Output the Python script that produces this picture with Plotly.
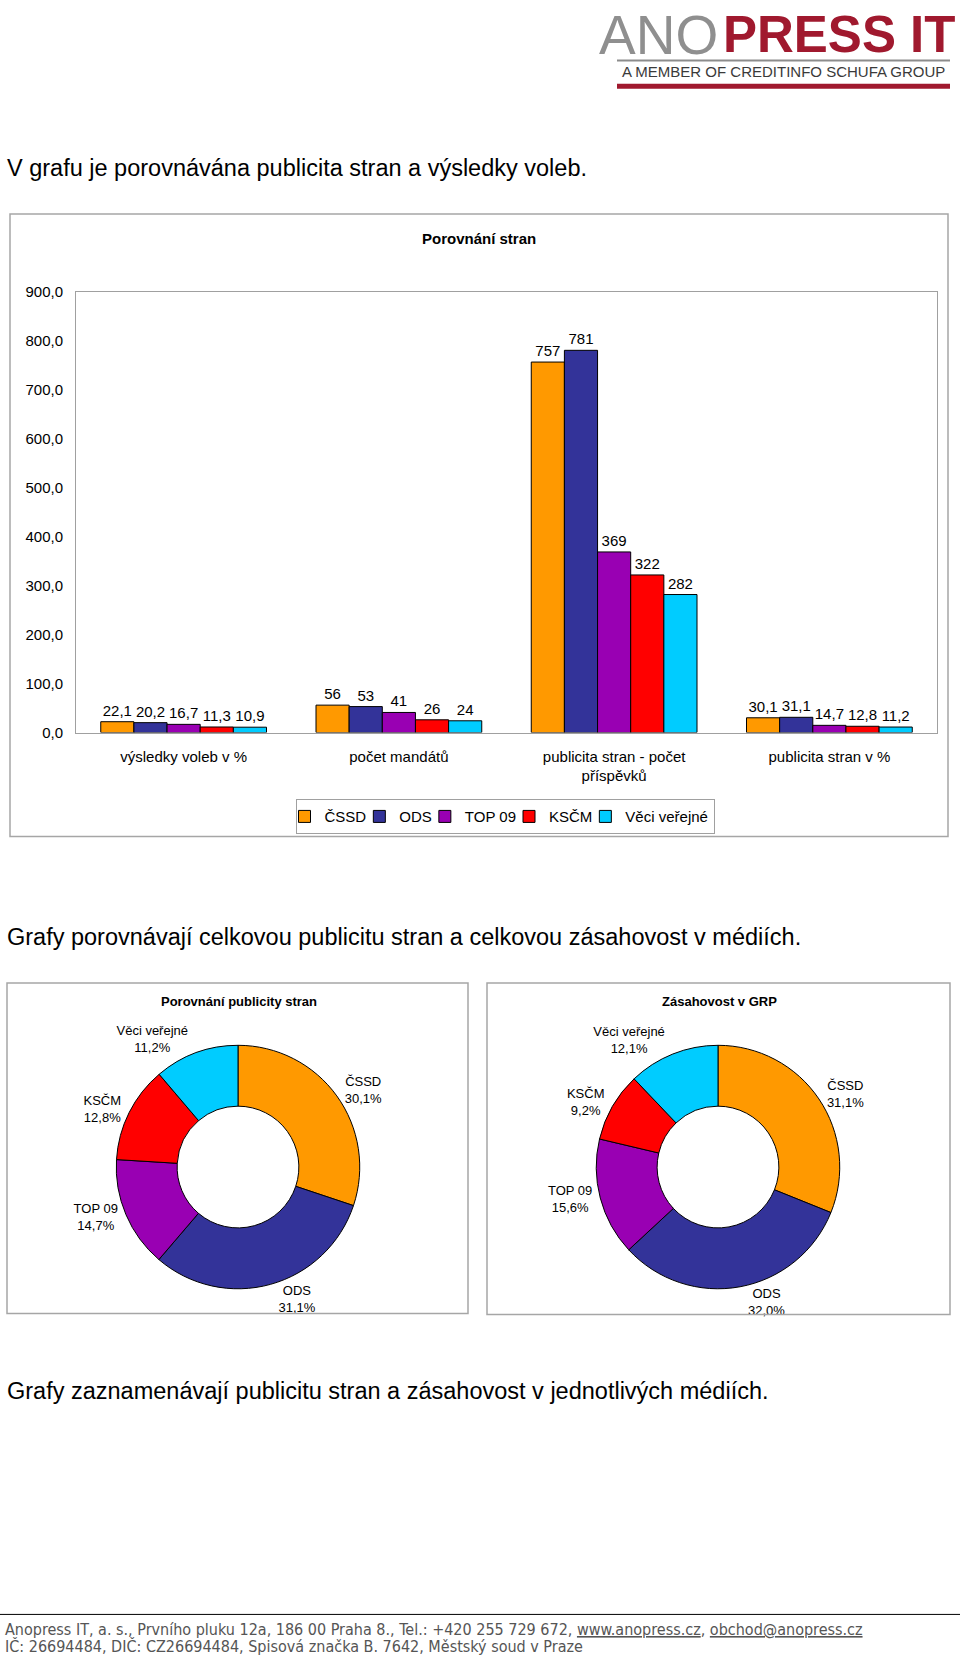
import plotly.graph_objects as go

# ---------------- data ----------------
parties = ["ČSSD", "ODS", "TOP 09", "KSČM", "Věci veřejné"]
party_colors = ["#FF9900", "#333399", "#9900B3", "#FF0000", "#00CCFF"]

categories = ["výsledky voleb v %", "počet mandátů",
              "publicita stran - počet<br>příspěvků", "publicita stran v %"]
category_decimals = [1, 0, 0, 1]

cssd = [22.1, 56, 757, 30.1]
ods = [20.2, 53, 781, 31.1]
top09 = [16.7, 41, 369, 14.7]
kscm = [11.3, 26, 322, 12.8]
vv = [10.9, 24, 282, 11.2]
series = [cssd, ods, top09, kscm, vv]

y_ticks = [0, 100, 200, 300, 400, 500, 600, 700, 800, 900]

publicity_pct = [30.1, 31.1, 14.7, 12.8, 11.2]
grp_pct = [31.1, 32.0, 15.6, 9.2, 12.1]

# ---------------- page geometry helpers ----------------
W, H = 960, 1663
FONT = "Arial, Liberation Sans, Helvetica, sans-serif"
COND = "DejaVu Sans Condensed, Liberation Sans Narrow, Arial Narrow, sans-serif"


def px(x):
    return x / W


def py(y):
    return 1 - y / H


def fmt(v, d):
    return f"{v:.{d}f}".replace(".", ",")


fig = go.Figure()

# ---------------- bar chart ----------------
for name, col, vals in zip(parties, party_colors, series):
    fig.add_trace(go.Bar(
        x=categories, y=vals, name=name,
        marker=dict(color=col, line=dict(color="black", width=1)),
        text=[fmt(v, d) for v, d in zip(vals, category_decimals)],
        textposition="outside", cliponaxis=False,
        textfont=dict(size=15, color="black", family=FONT),
        xaxis="x", yaxis="y",
    ))

# ---------------- donuts ----------------
for vals, cx in ((publicity_pct, 238), (grp_pct, 718)):
    fig.add_trace(go.Pie(
        labels=parties, values=vals, hole=0.5, sort=False,
        direction="clockwise", rotation=0,
        marker=dict(colors=party_colors, line=dict(color="black", width=1)),
        textposition="outside",
        texttemplate="%{label}<br>%{value:.1f}%",
        textfont=dict(size=13, color="black", family=FONT),
        showlegend=False,
        domain=dict(x=[px(cx - 123), px(cx + 123)], y=[py(1170 + 123), py(1170 - 123)]),
    ))

shapes = [
    # logo lines
    dict(type="line", x0=px(617), x1=px(950), y0=py(52), y1=py(52),
         line=dict(color="#8C8C8C", width=2)),
    dict(type="line", x0=px(617), x1=px(950), y0=py(78), y1=py(78),
         line=dict(color="#A0192E", width=5)),
    # chart frames
    dict(type="rect", x0=px(10), x1=px(948), y0=py(836), y1=py(207),
         line=dict(color="#A6A6A6", width=1.5)),
    dict(type="rect", x0=px(7), x1=px(468), y0=py(1318), y1=py(984),
         line=dict(color="#A6A6A6", width=1.5)),
    dict(type="rect", x0=px(487), x1=px(950), y0=py(1319), y1=py(984),
         line=dict(color="#A6A6A6", width=1.5)),
    # footer rule
    dict(type="line", x0=0, x1=1, y0=py(1622), y1=py(1622),
         line=dict(color="black", width=1)),
]
for s in shapes:
    s.update(xref="paper", yref="paper")

annotations = [
    dict(text="ANO", x=px(720), y=py(26), xanchor="right",
         font=dict(size=55, color="#8F8F8F", family=FONT)),
    dict(text="<b>PRESS IT</b>", x=px(721), y=py(26), xanchor="left",
         font=dict(size=51, color="#A0192E", family=FONT)),
    dict(text="A MEMBER OF CREDITINFO SCHUFA GROUP", x=px(783), y=py(63),
         font=dict(size=15, color="#3A3A3A", family=FONT)),
    dict(text="V grafu je porovnávána publicita stran a výsledky voleb.",
         x=px(5), y=py(161), xanchor="left", font=dict(size=23.5, color="black", family=FONT)),
    dict(text="<b>Porovnání stran</b>", x=px(479), y=py(232),
         font=dict(size=15, color="black", family=FONT)),
    dict(text="Grafy porovnávají celkovou publicitu stran a celkovou zásahovost v médiích.",
         x=px(5), y=py(938), xanchor="left", font=dict(size=23.5, color="black", family=FONT)),
    dict(text="<b>Porovnání publicity stran</b>", x=px(239), y=py(1003),
         font=dict(size=13, color="black", family=FONT)),
    dict(text="<b>Zásahovost v GRP</b>", x=px(719), y=py(1003),
         font=dict(size=13, color="black", family=FONT)),
    dict(text="Grafy zaznamenávají publicitu stran a zásahovost v jednotlivých médiích.",
         x=px(5), y=py(1396), xanchor="left", font=dict(size=23.5, color="black", family=FONT)),
    dict(text="Anopress IT, a. s., Prvního pluku 12a, 186 00 Praha 8., Tel.: +420 255 729 672, "
              "<u>www.anopress.cz</u>, <u>obchod@anopress.cz</u>",
         x=px(3), y=py(1637), xanchor="left", font=dict(size=16, color="#555555", family=COND)),
    dict(text="IČ: 26694484, DIČ: CZ26694484, Spisová značka B. 7642, Městský soud v Praze",
         x=px(3), y=py(1654), xanchor="left", font=dict(size=16, color="#555555", family=COND)),
]
for a in annotations:
    a.update(xref="paper", yref="paper", showarrow=False)
    a.setdefault("xanchor", "center")
    a["yanchor"] = "middle"

fig.update_layout(
    width=W, height=H, margin=dict(l=0, r=0, t=0, b=0),
    paper_bgcolor="white", plot_bgcolor="white",
    separators=", ",
    font=dict(family=FONT, size=15, color="black"),
    barmode="group", bargap=0.23, bargroupgap=0,
    xaxis=dict(domain=[px(76), px(937)], showline=True, linecolor="#A0A0A0", linewidth=1,
               mirror=True, ticks="", showgrid=False, ticklabelstandoff=10,
               tickfont=dict(size=15, color="black")),
    yaxis=dict(domain=[py(731), py(286)], range=[0, 900], tickvals=y_ticks,
               tickformat=".1f", showline=True, linecolor="#A0A0A0", linewidth=1,
               mirror=True, ticks="", showgrid=False, zeroline=False,
               ticklabelstandoff=9, tickfont=dict(size=15, color="black")),
    legend=dict(orientation="h", x=px(505), y=py(816), xanchor="center", yanchor="middle",
                bordercolor="#A0A0A0", borderwidth=1, font=dict(size=15, color="black"),
                itemwidth=30, indentation=-12, tracegroupgap=0),
    shapes=shapes, annotations=annotations,
)

fig.write_html(
    "out.html",
    config={"displayModeBar": False},
    post_script="document.documentElement.style.margin='0';"
                "document.body.style.margin='0';"
                "document.documentElement.style.overflow='hidden';"
                "document.body.style.overflow='hidden';",
)
